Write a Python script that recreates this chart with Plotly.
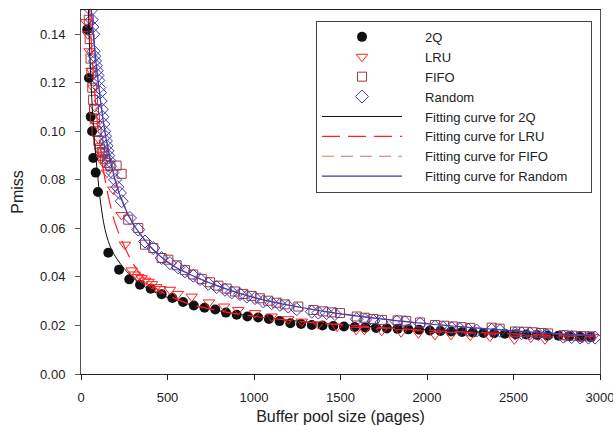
import plotly.graph_objects as go

# ---------------- data ----------------
q2_x = [36, 46, 56, 64, 71, 85, 98, 158, 220, 279, 341, 403, 466, 528, 590, 652, 714, 776, 838, 900,
        962, 1024, 1086, 1148, 1210, 1272, 1334, 1396, 1458, 1520, 1582, 1644, 1706, 1768, 1830, 1892,
        1954, 2016, 2078, 2140, 2202, 2264, 2326, 2388, 2450, 2512, 2574, 2636, 2698, 2760, 2822, 2884, 2946]
q2_y = [0.142, 0.122, 0.106, 0.100, 0.089, 0.083, 0.075, 0.050, 0.043, 0.039, 0.0368, 0.0351, 0.0329,
        0.0313, 0.0297, 0.0282, 0.0273, 0.0266, 0.0253, 0.0244, 0.0237, 0.0233, 0.0227, 0.0218, 0.0209,
        0.0206, 0.0202, 0.0200, 0.0198, 0.0196, 0.0194, 0.0192, 0.0190, 0.0188, 0.0186, 0.0184, 0.0182,
        0.0179, 0.0177, 0.0175, 0.0173, 0.0171, 0.0169, 0.0168, 0.0166, 0.0164, 0.0163, 0.0161, 0.0159,
        0.0158, 0.0156, 0.0154, 0.0152]

lru_x = [30, 40, 50, 60, 70, 80, 90, 100, 110, 120, 130, 150, 187, 235, 254, 293, 310, 330, 350, 370,
         390, 410, 435, 460, 514, 560, 640, 740, 827, 909, 1006, 1102, 1198, 1276, 1372, 1480, 1590,
         1638, 1738, 1850, 1950, 2046, 2139, 2250, 2364, 2505, 2600, 2682, 2800, 2900, 2960]
lru_y = [0.145, 0.140, 0.133, 0.125, 0.118, 0.110, 0.103, 0.097, 0.092, 0.089, 0.087, 0.083, 0.076,
         0.0655, 0.0533, 0.0427, 0.041, 0.040, 0.0395, 0.0385, 0.038, 0.037, 0.0358, 0.035, 0.0347,
         0.033, 0.0319, 0.0295, 0.0278, 0.0264, 0.0251, 0.0237, 0.0226, 0.0216, 0.0205, 0.0195, 0.0182,
         0.0182, 0.0178, 0.0172, 0.0168, 0.0161, 0.0161, 0.0158, 0.0154, 0.0143, 0.0150, 0.0143, 0.0152,
         0.0150, 0.0152]

fifo_x = [45, 50, 55, 60, 65, 70, 75, 80, 90, 100, 110, 120, 129, 140, 150, 170, 206, 235, 273, 331,
          370, 418, 466, 505, 553, 601, 649, 698, 746, 794, 842, 890, 938, 986, 1034, 1082, 1130, 1178,
          1256, 1343, 1400, 1450, 1497, 1594, 1640, 1690, 1740, 1830, 1880, 1960, 2046, 2100, 2150, 2200,
          2250, 2374, 2420, 2509, 2560, 2610, 2660, 2700, 2790, 2840, 2890, 2940]
fifo_y = [0.146, 0.138, 0.130, 0.124, 0.118, 0.113, 0.109, 0.105, 0.100, 0.096, 0.093, 0.0915, 0.091,
          0.0885, 0.087, 0.0858, 0.0859, 0.0825, 0.0636, 0.0602, 0.0533, 0.0519, 0.0478, 0.0471, 0.0448,
          0.0428, 0.0410, 0.0392, 0.0378, 0.0364, 0.0352, 0.0340, 0.0330, 0.0322, 0.0312, 0.0302, 0.0294,
          0.0287, 0.0278, 0.0264, 0.0258, 0.0254, 0.0251, 0.0237, 0.0232, 0.0227, 0.0223, 0.0221, 0.0219,
          0.0212, 0.0202, 0.0199, 0.0196, 0.0193, 0.0190, 0.0191, 0.0187, 0.0175, 0.0174, 0.0172, 0.0169,
          0.0167, 0.0160, 0.0158, 0.0156, 0.0155]

rnd_x = [58, 62, 66, 71, 73, 77, 81, 86, 91, 96, 100, 105, 110, 114, 120, 124, 129, 134, 139, 144, 148,
         153, 158, 163, 168, 182, 197, 211, 225, 235, 283, 331, 370, 418, 466, 514, 562, 601, 649, 688,
         736, 784, 832, 871, 919, 958, 1006, 1054, 1102, 1150, 1198, 1247, 1334, 1372, 1420, 1468, 1594,
         1642, 1690, 1738, 1825, 1873, 1960, 2046, 2094, 2143, 2191, 2239, 2287, 2374, 2422, 2509, 2547,
         2595, 2643, 2692, 2788, 2836, 2884, 2933, 2971]
rnd_y = [0.150, 0.146, 0.143, 0.140, 0.133, 0.131, 0.129, 0.127, 0.125, 0.123, 0.121, 0.118, 0.116,
         0.1125, 0.109, 0.106, 0.103, 0.100, 0.098, 0.096, 0.094, 0.092, 0.090, 0.088, 0.0856, 0.083,
         0.080, 0.077, 0.0746, 0.0712, 0.0643, 0.0595, 0.0546, 0.0519, 0.0478, 0.0457, 0.0439, 0.0423,
         0.0405, 0.0391, 0.0372, 0.0358, 0.0347, 0.0336, 0.0329, 0.0319, 0.0313, 0.0299, 0.0292, 0.0285,
         0.0278, 0.0267, 0.0257, 0.0253, 0.0251, 0.0247, 0.0226, 0.0223, 0.0219, 0.0214, 0.0216, 0.0214,
         0.0207, 0.0195, 0.0191, 0.0189, 0.0185, 0.0182, 0.0179, 0.0182, 0.0178, 0.0168, 0.0168, 0.0168,
         0.0164, 0.0161, 0.0154, 0.0152, 0.0150, 0.0150, 0.0150]

# fitted curves
fit_q2_x = [43, 50, 60, 70, 80, 96, 110, 139, 177, 225, 273, 350, 450, 600, 800, 1000, 1300, 1600, 2000, 2500, 2960]
fit_q2_y = [0.150, 0.134, 0.117, 0.104, 0.094, 0.082, 0.0725, 0.0595, 0.0512, 0.0457, 0.0416, 0.0368,
            0.0330, 0.0292, 0.0260, 0.0237, 0.0215, 0.0199, 0.0183, 0.0167, 0.0153]

fit_lru_x = [50, 60, 70, 80, 90, 100, 129, 158, 197, 245, 293, 350, 450, 600, 800, 1000, 1300, 1600, 2000, 2500, 2960]
fit_lru_y = [0.150, 0.136, 0.125, 0.115, 0.107, 0.100, 0.0843, 0.0732, 0.0622, 0.0535, 0.0465, 0.0405,
             0.0345, 0.0295, 0.0260, 0.0238, 0.0214, 0.0198, 0.0180, 0.0165, 0.0153]

fit_fifo_x = [58, 70, 80, 100, 125, 150, 200, 250, 300, 400, 500, 600, 800, 1000, 1250, 1500, 2000, 2500, 2960]
fit_fifo_y = [0.150, 0.142, 0.134, 0.121, 0.107, 0.096, 0.080, 0.0695, 0.0622, 0.0527, 0.0463, 0.0421,
              0.0361, 0.0316, 0.0278, 0.0249, 0.0208, 0.0178, 0.0157]

fit_rnd_x = [60, 70, 80, 100, 125, 150, 200, 250, 300, 400, 500, 600, 800, 1000, 1250, 1500, 2000, 2500, 2960]
fit_rnd_y = [0.150, 0.141, 0.133, 0.120, 0.106, 0.095, 0.079, 0.069, 0.062, 0.0525, 0.0462, 0.0420,
             0.0360, 0.0315, 0.0277, 0.0248, 0.0207, 0.0178, 0.0157]

series_names = ["2Q", "LRU", "FIFO", "Random",
                "Fitting curve for 2Q", "Fitting curve for LRU",
                "Fitting curve for FIFO", "Fitting curve for Random"]

x_ticks = [0, 500, 1000, 1500, 2000, 2500, 3000]
y_ticks = [0.00, 0.02, 0.04, 0.06, 0.08, 0.10, 0.12, 0.14]

# ---------------- figure ----------------
C_LRU = "#FF2020"
C_FIFO = "#A03838"
C_FIFO_LINE = "#D27272"
C_RND = "#3A3AB4"

PAD = "&nbsp;" * 5


def lbl(name, trail=0):
    return PAD + name + "&nbsp;" * trail


fig = go.Figure()
fig.add_trace(go.Scatter(x=q2_x, y=q2_y, mode="markers", name=lbl(series_names[0]),
                         marker=dict(symbol="circle", size=10, color="#111111")))
fig.add_trace(go.Scatter(x=lru_x, y=lru_y, mode="markers", name=lbl(series_names[1]),
                         marker=dict(symbol="triangle-down-open", size=10, color=C_LRU, line=dict(width=1))))
fig.add_trace(go.Scatter(x=fifo_x, y=fifo_y, mode="markers", name=lbl(series_names[2]),
                         marker=dict(symbol="square-open", size=9, color=C_FIFO, line=dict(width=1))))
fig.add_trace(go.Scatter(x=rnd_x, y=rnd_y, mode="markers", name=lbl(series_names[3]),
                         marker=dict(symbol="diamond-open", size=10, color=C_RND, line=dict(width=1))))
fig.add_trace(go.Scatter(x=fit_q2_x, y=fit_q2_y, mode="lines", name=lbl(series_names[4]),
                         line=dict(color="#111111", width=1, shape="spline")))
fig.add_trace(go.Scatter(x=fit_lru_x, y=fit_lru_y, mode="lines", name=lbl(series_names[5]),
                         line=dict(color=C_LRU, width=1.2, dash="18px,8px", shape="spline")))
fig.add_trace(go.Scatter(x=fit_fifo_x, y=fit_fifo_y, mode="lines", name=lbl(series_names[6]),
                         line=dict(color=C_FIFO_LINE, width=1.2, dash="12px,7px", shape="spline")))
fig.add_trace(go.Scatter(x=fit_rnd_x, y=fit_rnd_y, mode="lines", name=lbl(series_names[7], 5),
                         line=dict(color=C_RND, width=1.2, shape="spline")))

FONT = "Liberation Sans, Arial, sans-serif"
fig.update_layout(
    width=613, height=425,
    margin=dict(l=81, r=13, t=10, b=51, autoexpand=False),
    paper_bgcolor="white", plot_bgcolor="white",
    font=dict(family=FONT, size=13, color="#222222"),
    showlegend=True,
    legend=dict(x=0.4528, y=0.97, xanchor="left", yanchor="top",
                bordercolor="#444444", borderwidth=1, bgcolor="white",
                font=dict(family=FONT, size=13, color="#222222"),
                itemwidth=80, tracegroupgap=0),
    xaxis=dict(range=[0, 3000], tickvals=x_ticks, ticktext=[str(v) for v in x_ticks],
               automargin=False, ticklabeloverflow="allow", ticklabelstandoff=6,
               showgrid=False, zeroline=False, showline=True, linecolor="#222222", linewidth=1,
               mirror=True, ticks="outside", ticklen=5, tickcolor="#222222",
               tickfont=dict(size=13),
               title=dict(text="Buffer pool size (pages)", font=dict(size=16), standoff=9)),
    yaxis=dict(range=[0, 0.15], tickvals=y_ticks, ticktext=[f"{v:.2f}" for v in y_ticks],
               automargin=False, ticklabeloverflow="allow", ticklabelstandoff=7,
               showgrid=False, zeroline=False, showline=True, linecolor="#555555", linewidth=1,
               mirror=True, ticks="outside", ticklen=5, tickcolor="#555555",
               tickfont=dict(size=13),
               title=dict(text="Pmiss", font=dict(size=16), standoff=12)),
)

# remove the default page margin so the 613x425 figure fills the window exactly
fig.write_html("out.html",
               config={"displayModeBar": False},
               post_script="document.body.style.margin='0';document.body.style.overflow='hidden';")
